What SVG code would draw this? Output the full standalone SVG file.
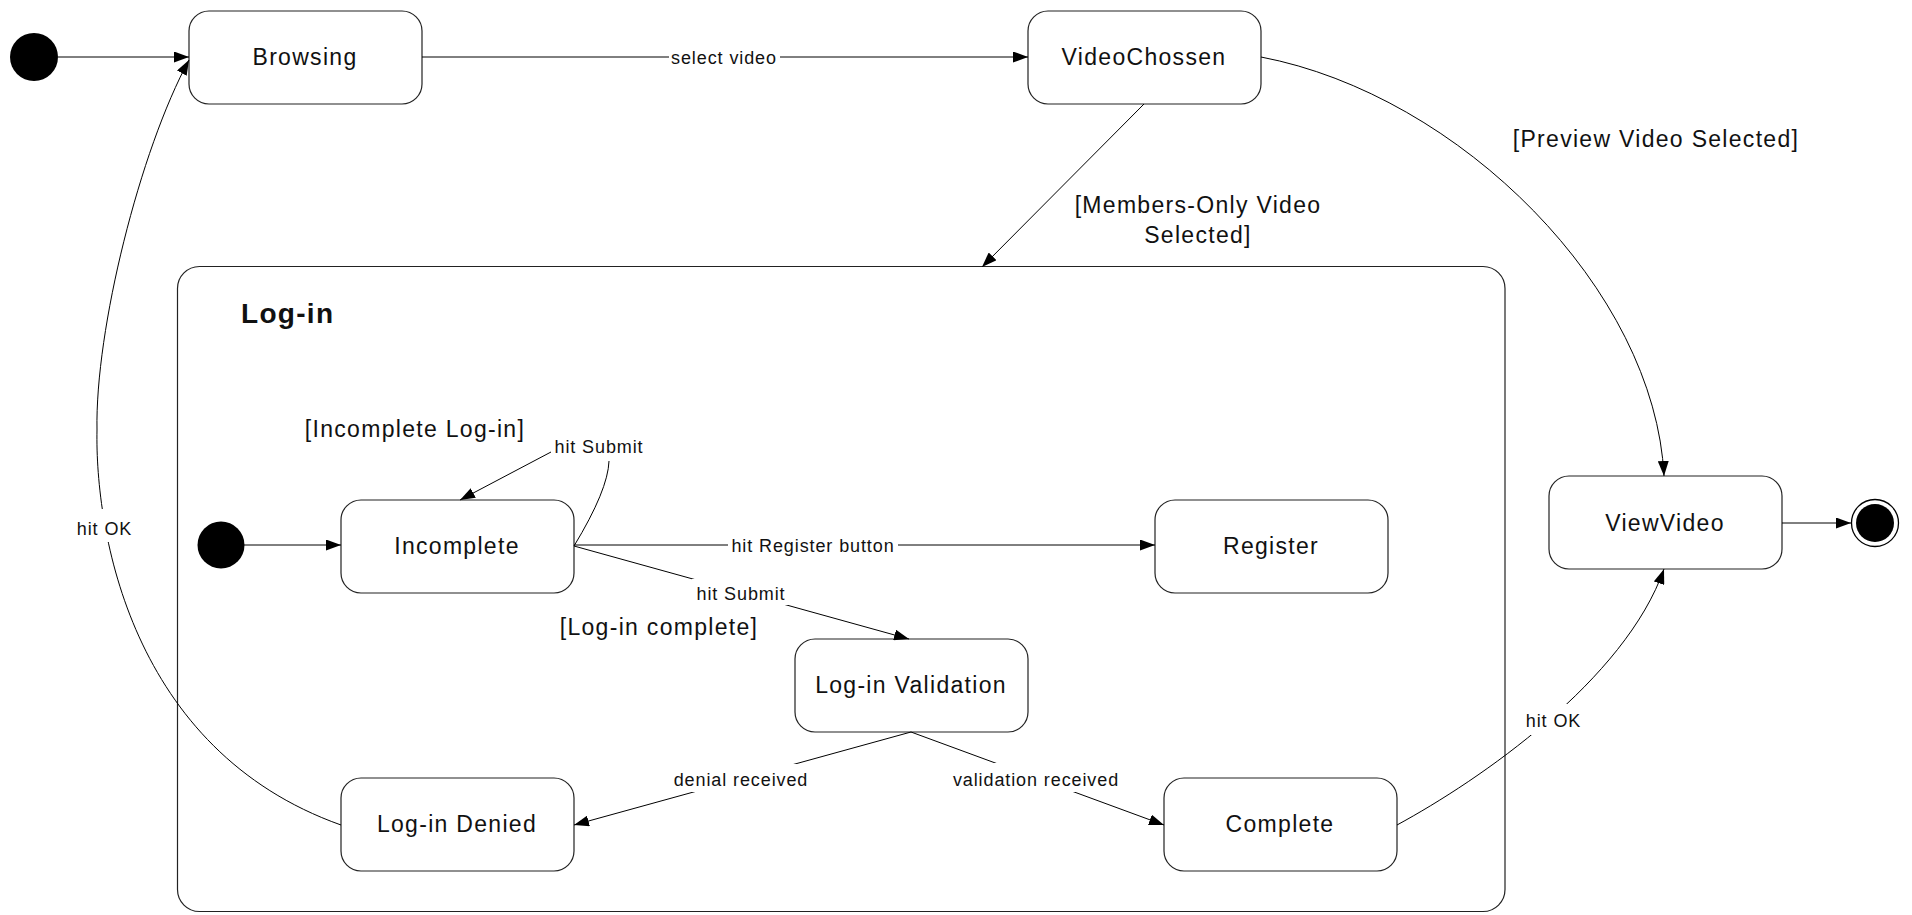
<svg xmlns="http://www.w3.org/2000/svg" width="1912" height="915" viewBox="0 0 1912 915">
<defs>
<marker id="arr" viewBox="0 0 15 11" refX="15" refY="5.5" markerWidth="15" markerHeight="11" orient="auto" markerUnits="userSpaceOnUse"><path d="M0,0 L15,5.5 L0,11 z" fill="#000"/></marker>
</defs>
<style>
.st{fill:#fff;stroke:#222;stroke-width:1.2}
.nt{font-family:"Liberation Sans",Arial,sans-serif;font-size:23px;letter-spacing:1.3px;text-anchor:middle;fill:#111}
.gd{font-family:"Liberation Sans",Arial,sans-serif;font-size:23px;letter-spacing:1.3px;text-anchor:middle;fill:#111}
.lb{font-family:"Liberation Sans",Arial,sans-serif;font-size:18px;letter-spacing:0.9px;text-anchor:middle;fill:#111}
.ln{fill:none;stroke:#000;stroke-width:1}
.bg{fill:#fff;stroke:none}
</style>
<rect width="1912" height="915" fill="#fff"/>

<g id="login-composite">
<rect class="st" x="177.5" y="266.5" width="1327.5" height="645" rx="22"/>
<text x="241" y="323" style="font-family:'Liberation Sans',Arial,sans-serif;font-size:28px;font-weight:bold;letter-spacing:1.3px;fill:#111">Log-in</text>
</g>

<g id="initial"><circle cx="34" cy="57" r="24" fill="#000"/></g>
<g id="browsing"><rect class="st" x="189" y="11" width="233" height="93" rx="20"/><text class="nt" x="305" y="65">Browsing</text></g>
<g id="videochossen"><rect class="st" x="1028" y="11" width="233" height="93" rx="20"/><text class="nt" x="1144" y="65">VideoChossen</text></g>
<g id="viewvideo"><rect class="st" x="1549" y="476" width="233" height="93" rx="20"/><text class="nt" x="1665" y="531">ViewVideo</text></g>
<g id="final"><circle cx="1875" cy="523" r="23.5" fill="#fff" stroke="#000" stroke-width="1.3"/><circle cx="1875" cy="523" r="19" fill="#000"/></g>
<g id="inner-initial"><circle cx="221" cy="545" r="23.5" fill="#000"/></g>
<g id="incomplete"><rect class="st" x="341" y="500" width="233" height="93" rx="20"/><text class="nt" x="457" y="554">Incomplete</text></g>
<g id="register"><rect class="st" x="1155" y="500" width="233" height="93" rx="20"/><text class="nt" x="1271" y="554">Register</text></g>
<g id="validation"><rect class="st" x="795" y="639" width="233" height="93" rx="20"/><text class="nt" x="911" y="693">Log-in Validation</text></g>
<g id="denied"><rect class="st" x="341" y="778" width="233" height="93" rx="20"/><text class="nt" x="457" y="832">Log-in Denied</text></g>
<g id="complete"><rect class="st" x="1164" y="778" width="233" height="93" rx="20"/><text class="nt" x="1280" y="832">Complete</text></g>

<g id="connectors">
<path class="ln" d="M58,57 L189,57" marker-end="url(#arr)"/>
<path class="ln" d="M422,57 L1028,57" marker-end="url(#arr)"/>
<path class="ln" d="M1144,104 L982,267" marker-end="url(#arr)"/>
<path class="ln" d="M1261,57 C1460,95 1655,290 1664,476" marker-end="url(#arr)"/>
<path class="ln" d="M1782,523 L1851,523" marker-end="url(#arr)"/>
<path class="ln" d="M244,545 L341,545" marker-end="url(#arr)"/>
<path class="ln" d="M574,545 L1155,545" marker-end="url(#arr)"/>
<path class="ln" d="M574,546 Q608,490 609,461"/>
<path class="ln" d="M551,452 L460,500" marker-end="url(#arr)"/>
<path class="ln" d="M574,546 L909,639" marker-end="url(#arr)"/>
<path class="ln" d="M911,732 L574,825" marker-end="url(#arr)"/>
<path class="ln" d="M911,732 L1164,825" marker-end="url(#arr)"/>
<path class="ln" d="M341,825 C130,750 95,530 97,430 C95,330 140,150 189,60" marker-end="url(#arr)"/>
<path class="ln" d="M1397,825 C1480,780 1625,680 1664,569" marker-end="url(#arr)"/>

<rect class="bg" x="669" y="47" width="111" height="20"/>
<text class="lb" x="724" y="63.5">select video</text>
<rect class="bg" x="728" y="535" width="170" height="20"/>
<text class="lb" x="813" y="551.5">hit Register button</text>
<rect class="bg" x="692" y="579" width="99" height="26"/>
<text class="lb" x="741" y="600">hit Submit</text>
<rect class="bg" x="672" y="764" width="138" height="28"/>
<text class="lb" x="741" y="786">denial received</text>
<rect class="bg" x="950" y="763" width="172" height="29"/>
<text class="lb" x="1036" y="786">validation received</text>
<rect class="bg" x="74" y="509" width="61" height="33"/>
<text class="lb" x="104.5" y="535">hit OK</text>
<rect class="bg" x="1522" y="704" width="63" height="31"/>
<text class="lb" x="1553.5" y="727">hit OK</text>
<text class="lb" x="599" y="453">hit Submit</text>

<text class="gd" x="1198" y="213">[Members-Only Video</text>
<text class="gd" x="1198" y="243">Selected]</text>
<text class="gd" x="1656" y="147">[Preview Video Selected]</text>
<text class="gd" x="415" y="437">[Incomplete Log-in]</text>
<text class="gd" x="659" y="635">[Log-in complete]</text>
</g>
</svg>
